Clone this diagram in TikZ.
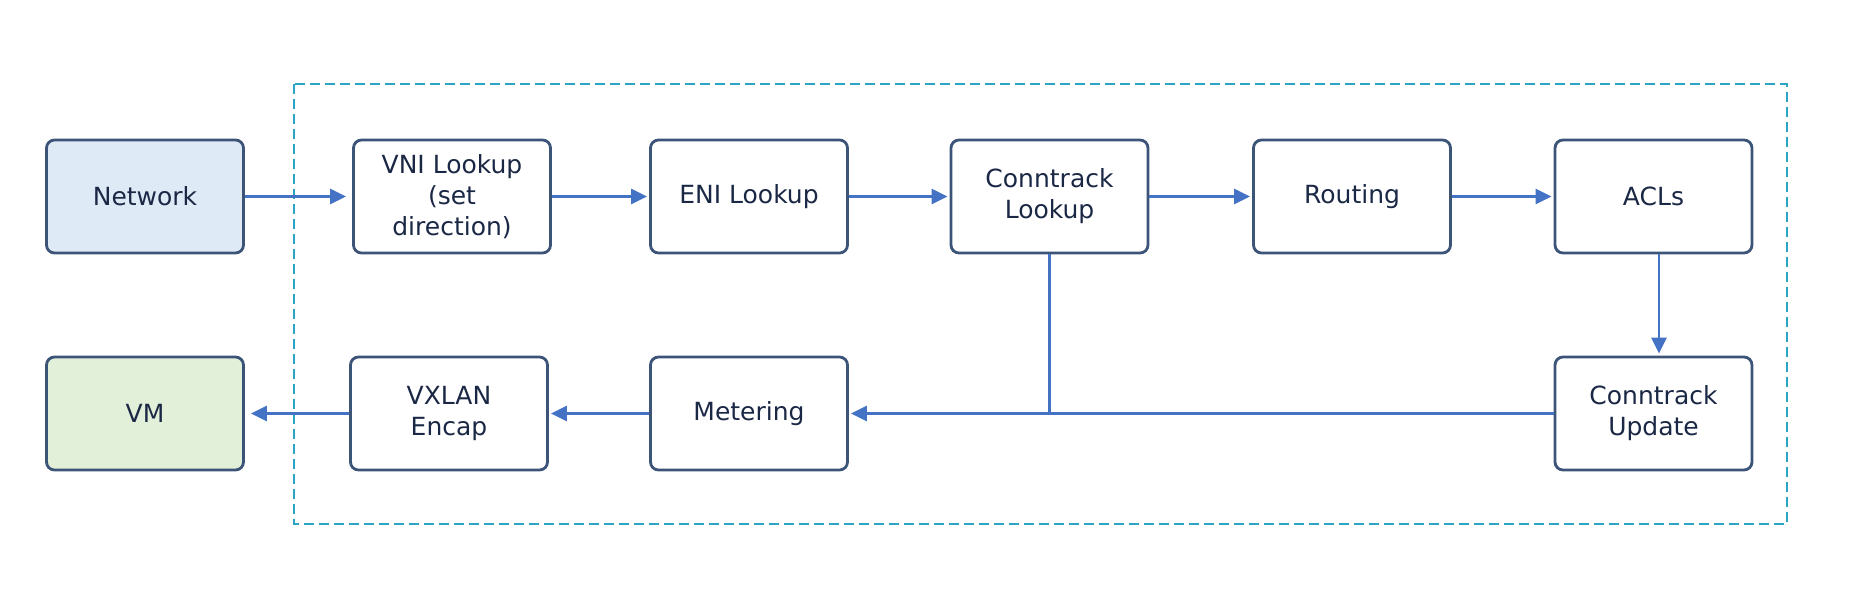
\documentclass[tikz,border=0pt]{standalone}
\usepackage{fontspec}
\setmainfont{DejaVu Sans}
\usetikzlibrary{arrows.meta}
\definecolor{boxline}{HTML}{3D5479}
\definecolor{arr}{HTML}{4472C4}
\definecolor{dashcol}{HTML}{2AA6C4}
\definecolor{txt}{HTML}{1B2845}
\definecolor{netfill}{HTML}{DEEAF6}
\definecolor{vmfill}{HTML}{E2EFD9}
\begin{document}
\begin{tikzpicture}[x=1pt,y=-1pt,
  stage/.style={draw=boxline, line width=2.8pt, rounded corners=8pt, fill=white,
    minimum width=197pt, minimum height=113pt, inner sep=0pt,
    align=center, text=txt, font=\fontsize{25}{31}\selectfont},
  flow/.style={draw=arr, line width=2.8pt, -{Triangle[length=16pt,width=15pt]}},
  plain/.style={draw=arr, line width=2.8pt}
]
\useasboundingbox (0,0) rectangle (1876,614);
\draw[draw=dashcol, line width=2.6pt, dash pattern=on 10pt off 5pt] (294,84) rectangle (1787,524);
\node[stage, fill=netfill] (net) at (145,196.5) {Network};
\node[stage] (vni) at (452,196.5) {VNI Lookup\\(set\\direction)};
\node[stage] (eni) at (749,196.5) {ENI Lookup};
\node[stage] (ctl) at (1049.5,196.5) {Conntrack\\Lookup};
\node[stage] (rt) at (1352,196.5) {Routing};
\node[stage] (acl) at (1653.5,196.5) {ACLs};
\node[stage, fill=vmfill] (vm) at (145,413.5) {VM};
\node[stage] (vx) at (449,413.5) {VXLAN\\Encap};
\node[stage] (met) at (749,413.5) {Metering};
\node[stage] (ctu) at (1653.5,413.5) {Conntrack\\Update};
\draw[flow, shorten >=6pt] (net) -- (vni);
\draw[flow, shorten >=2pt] (vni) -- (eni);
\draw[flow, shorten >=2pt] (eni) -- (ctl);
\draw[flow, shorten >=2pt] (ctl) -- (rt);
\draw[flow, shorten >=2pt] (rt) -- (acl);
\draw[flow, shorten >=2pt] (acl.south -| 1659,0) -- (ctu.north -| 1659,0);
\draw[flow, shorten >=2pt] (ctu) -- (met);
\coordinate (j) at (ctl.south |- met.east);
\draw[plain] (ctl.south) -- (j);
\draw[flow, shorten >=2pt] (met) -- (vx);
\draw[flow, shorten >=6pt] (vx) -- (vm);
\end{tikzpicture}
\end{document}
